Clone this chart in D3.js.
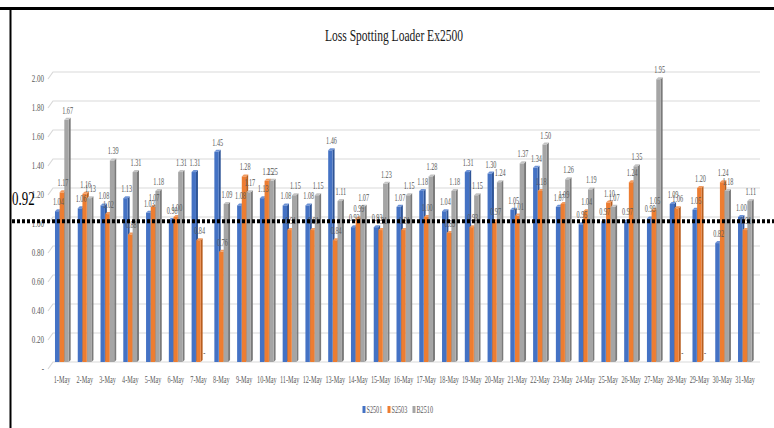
<!DOCTYPE html>
<html>
<head>
<meta charset="utf-8">
<script src="https://cdn.jsdelivr.net/npm/d3@7"></script>
<style>
  html, body { margin: 0; padding: 0; background: #fff; }
  svg { display: block; }
  text { font-family: "Liberation Serif", "DejaVu Serif", serif; }
</style>
</head>
<body>
<svg id="chart" width="774" height="428"></svg>
<script>
const title = "Loss Spotting Loader Ex2500";
const days = ["1-May","2-May","3-May","4-May","5-May","6-May","7-May","8-May","9-May","10-May",
  "11-May","12-May","13-May","14-May","15-May","16-May","17-May","18-May","19-May","20-May",
  "21-May","22-May","23-May","24-May","25-May","26-May","27-May","28-May","29-May","30-May","31-May"];
const seriesNames = ["S2501", "S2503", "B2510"];
const s2501 = [1.04,1.06,1.08,1.13,1.03,0.98,1.31,1.45,1.08,1.13,1.08,1.08,1.46,0.93,0.93,1.07,1.18,1.04,1.31,1.30,1.05,1.34,1.07,0.95,0.97,0.97,0.99,1.09,1.05,0.82,1.00];
const s2503 = [1.17,1.16,1.02,0.88,1.07,1.00,0.84,0.76,1.28,1.25,0.91,0.91,0.84,0.99,0.91,0.91,1.00,0.89,0.93,0.97,1.01,1.18,1.09,1.04,1.10,1.24,1.05,1.06,1.20,1.24,0.91];
const b2510 = [1.67,1.13,1.39,1.31,1.18,1.31,0,1.09,1.17,1.25,1.15,1.15,1.11,1.07,1.23,1.15,1.28,1.18,1.15,1.24,1.37,1.50,1.26,1.19,1.07,1.35,1.95,0,0,1.18,1.11];
const yTicks = [0,0.2,0.4,0.6,0.8,1.0,1.2,1.4,1.6,1.8,2.0];
const targetLabel = "0.92";
const targetLineAt = 0.97;   // where the dashed reference line is drawn on the axis

const colors = { S2501: "#4472C4", S2503: "#ED7D31", B2510: "#A5A5A5" };
const sideColors = { S2501: "#2F5597", S2503: "#B85E1F", B2510: "#7A7A7A" };
const topColors = { S2501: "#6E93D6", S2503: "#F29A5E", B2510: "#C4C4C4" };
const seriesData = { S2501: s2501, S2503: s2503, B2510: b2510 };

const svg = d3.select("#chart");
svg.append("rect").attr("width", 774).attr("height", 428).attr("fill", "#fff");

const x = d3.scaleBand().domain(days).range([50.6, 756.4]);
const xs = d3.scaleBand().domain(seriesNames).range([-7, 7]);
const y = d3.scaleLinear().domain([0, 2]).range([362, 72]);

const SX = 0.7;
function ctext(g, px, py, str, size, fill, anchor, sx) {
  return g.append("text")
    .attr("transform", `translate(${px},${py}) scale(${sx || SX},1)`)
    .attr("text-anchor", anchor || "middle")
    .attr("font-size", size)
    .attr("fill", fill)
    .text(str);
}

// frame
svg.append("rect").attr("x", 0).attr("y", 7).attr("width", 774).attr("height", 3).attr("fill", "#000");
svg.append("rect").attr("x", 9.5).attr("y", 7).attr("width", 2).attr("height", 421).attr("fill", "#000");

// title
ctext(svg, 394, 41, title, 16, "#1a1a1a", "middle", 0.72);

// gridlines + y tick labels
const grid = svg.append("g");
const fmt = d3.format(".2f");
yTicks.forEach(v => {
  const yy = y(v);
  grid.append("path")
    .attr("d", `M48,${yy + 7}L53,${yy}L760,${yy}`)
    .attr("fill", "none").attr("stroke", "#D9D9D9").attr("stroke-width", 1.2);
  ctext(grid, 44, yy + 10, v === 0 ? "-" : fmt(v), 10, "#595959", "end");
});

// bars
const depth = 2;
const barsG = svg.append("g");
days.forEach((d, i) => {
  seriesNames.forEach(s => {
    const v = seriesData[s][i];
    const x0 = x(d) + x.bandwidth() / 2 + xs(s);
    const w = xs.bandwidth() - 0.3;
    const yt = y(v), yb = y(0);
    if (v > 0) {
      barsG.append("path")
        .attr("d", `M${x0 + w},${yt}L${x0 + w + depth},${yt - depth}L${x0 + w + depth},${yb - depth}L${x0 + w},${yb}Z`)
        .attr("fill", sideColors[s]);
      barsG.append("rect")
        .attr("x", x0).attr("y", yt).attr("width", w).attr("height", yb - yt)
        .attr("fill", colors[s]);
      barsG.append("path")
        .attr("d", `M${x0},${yt}L${x0 + w},${yt}L${x0 + w + depth},${yt - depth}L${x0 + depth},${yt - depth}Z`)
        .attr("fill", topColors[s]);
    }
  });
});

// data labels
const labG = svg.append("g");
days.forEach((d, i) => {
  seriesNames.forEach(s => {
    const v = seriesData[s][i];
    const cx = x(d) + x.bandwidth() / 2 + xs(s) + xs.bandwidth() / 2 + 1;
    ctext(labG, cx, y(v) - 6, v === 0 ? "-" : fmt(v), 10, "#595959", "middle", 0.62);
  });
});

// category labels
const catG = svg.append("g");
days.forEach(d => {
  ctext(catG, x(d) + x.bandwidth() / 2, 383, d, 10, "#595959", "middle", 0.62);
});

// reference line
svg.append("line")
  .attr("x1", 12).attr("x2", 774)
  .attr("y1", y(targetLineAt)).attr("y2", y(targetLineAt))
  .attr("stroke", "#000").attr("stroke-width", 4).attr("stroke-dasharray", "3,2");
ctext(svg, 12, y(targetLineAt) - 16, targetLabel, 19, "#000", "start", 0.68);

// legend
const legG = svg.append("g");
const legX = [362.5, 387.5, 412.5];
seriesNames.forEach((s, k) => {
  legG.append("rect").attr("x", legX[k]).attr("y", 406).attr("width", 3).attr("height", 7).attr("fill", colors[s]);
  ctext(legG, legX[k] + 4, 413, s, 10, "#595959", "start", 0.62);
});
</script>
</body>
</html>
